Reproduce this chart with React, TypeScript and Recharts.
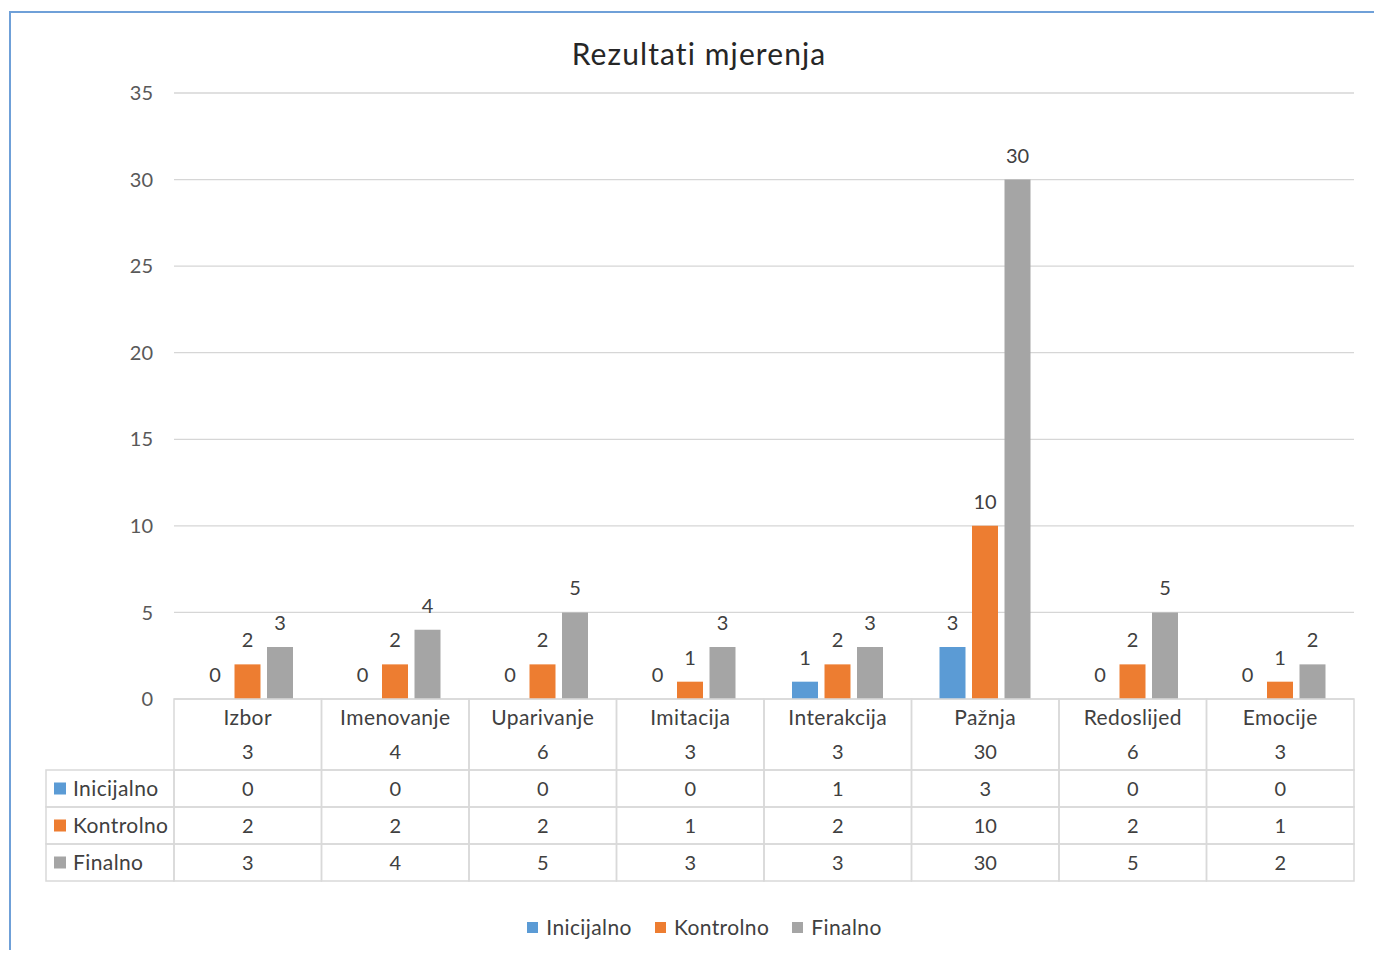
import React from 'react';
import { BarChart, Bar, XAxis, YAxis, CartesianGrid, Legend, LabelList } from 'recharts';

const categories = ['Izbor', 'Imenovanje', 'Uparivanje', 'Imitacija', 'Interakcija', 'Pažnja', 'Redoslijed', 'Emocije'];
const maxScores = [3, 4, 6, 3, 3, 30, 6, 3];
const inicijalno = [0, 0, 0, 0, 1, 3, 0, 0];
const kontrolno = [2, 2, 2, 1, 2, 10, 2, 1];
const finalno = [3, 4, 5, 3, 3, 30, 5, 2];
const yTicks = [0, 5, 10, 15, 20, 25, 30, 35];
const seriesNames = ['Inicijalno', 'Kontrolno', 'Finalno'];
const seriesKeys = ['inicijalno', 'kontrolno', 'finalno'];
const seriesValues = [inicijalno, kontrolno, finalno];
const seriesColors = ['#5B9BD5', '#ED7D31', '#A5A5A5'];
const title = 'Rezultati mjerenja';

const data = categories.map((name, i) => ({
  name,
  max: maxScores[i],
  inicijalno: inicijalno[i],
  kontrolno: kontrolno[i],
  finalno: finalno[i],
}));

const TEXT = '#404040';
const AXIS_TEXT = '#595959';
const BORDER = '#d9d9d9';
const LABEL_COL = 128;
const CAT_ROW_H = 71;
const ROW_H = 37;
const FONT = 20;
const WORD_FONT = 21;
const WORD_SPACING = 0.4;

function CategoryTick(props: any) {
  const { x, y, payload, width, index } = props;
  const bw = (width || 1180) / categories.length;
  const i = typeof index === 'number' ? index : payload.index;
  return (
    <g>
      <rect x={x - bw / 2} y={y} width={bw} height={CAT_ROW_H} fill="none" stroke={BORDER} strokeWidth={1.5} />
      <text
        x={x}
        y={y + 17}
        textAnchor="middle"
        dominantBaseline="central"
        fontSize={WORD_FONT}
        letterSpacing={WORD_SPACING}
        fill={TEXT}
      >
        {payload.value}
      </text>
      <text x={x} y={y + 52} textAnchor="middle" dominantBaseline="central" fontSize={FONT} fill={TEXT}>
        {maxScores[i]}
      </text>
    </g>
  );
}

function makeRowTick(s: number) {
  return function RowTick(props: any) {
    const { x, y, payload, width, index } = props;
    const bw = (width || 1180) / categories.length;
    const i = typeof index === 'number' ? index : payload.index;
    const left = x - bw / 2;
    return (
      <g>
        {i === 0 && (
          <g>
            <rect x={left - LABEL_COL} y={y} width={LABEL_COL} height={ROW_H} fill="none" stroke={BORDER} strokeWidth={1.5} />
            <rect x={left - LABEL_COL + 8} y={y + ROW_H / 2 - 6} width={12} height={12} fill={seriesColors[s]} />
            <text
              x={left - LABEL_COL + 27}
              y={y + ROW_H / 2 - 1}
              dominantBaseline="central"
              fontSize={WORD_FONT}
              letterSpacing={WORD_SPACING}
              fill={TEXT}
            >
              {seriesNames[s]}
            </text>
          </g>
        )}
        <rect x={left} y={y} width={bw} height={ROW_H} fill="none" stroke={BORDER} strokeWidth={1.5} />
        <text x={x} y={y + ROW_H / 2 - 1} textAnchor="middle" dominantBaseline="central" fontSize={FONT} fill={TEXT}>
          {seriesValues[s][i]}
        </text>
      </g>
    );
  };
}

const rowTicks = [makeRowTick(0), makeRowTick(1), makeRowTick(2)];

function LegendContent() {
  return (
    <div
      style={{
        height: 67,
        boxSizing: 'border-box',
        paddingTop: 34,
        paddingLeft: 19,
        display: 'flex',
        justifyContent: 'center',
        alignItems: 'flex-start',
        fontFamily: 'Lato',
      }}
    >
      {seriesNames.map((n, i) => (
        <div key={n} style={{ display: 'flex', alignItems: 'center', height: 24, marginLeft: i ? 23 : 0 }}>
          <span style={{ display: 'inline-block', width: 11, height: 11, background: seriesColors[i], marginRight: 8 }} />
          <span style={{ fontSize: WORD_FONT, letterSpacing: WORD_SPACING, color: TEXT, lineHeight: '24px' }}>{n}</span>
        </div>
      ))}
    </div>
  );
}

export default function App() {
  return (
    <div style={{ position: 'relative', width: 1374, height: 942, fontFamily: 'Lato', background: '#fff' }}>
      <div
        style={{
          position: 'absolute',
          left: 1,
          top: 3,
          width: 1373,
          height: 947,
          boxSizing: 'border-box',
          borderLeft: '2px solid #6fa0d8',
          borderTop: '2px solid #6fa0d8',
        }}
      />
      <div style={{ position: 'absolute', left: 0, top: 0 }}>
        <BarChart
          width={1374}
          height={942}
          data={data}
          margin={{ top: 85, right: 28, left: 0, bottom: 2 }}
          barSize={26}
          barGap={6.5}
        >
          <text x={691} y={57} textAnchor="middle" fontSize={30} letterSpacing={1.1} fill="#262626" fontFamily="Lato">
            {title}
          </text>
          <CartesianGrid xAxisId="cat" vertical={false} stroke="#d6d6d6" strokeWidth={1.3} />
          <YAxis
            width={166}
            domain={[0, 35]}
            ticks={yTicks}
            axisLine={false}
            tickLine={false}
            tickSize={0}
            tickMargin={21}
            tick={{ fontSize: FONT, fill: AXIS_TEXT }}
          />
          <XAxis
            xAxisId="cat"
            dataKey="name"
            height={CAT_ROW_H}
            axisLine={false}
            tickLine={false}
            tickSize={0}
            tickMargin={0}
            interval={0}
            tick={CategoryTick}
          />
          {seriesKeys.map((k, s) => (
            <XAxis
              key={k}
              xAxisId={'row' + s}
              dataKey="name"
              height={ROW_H}
              axisLine={false}
              tickLine={false}
              tickSize={0}
              tickMargin={0}
              interval={0}
              tick={rowTicks[s]}
            />
          ))}
          <Legend verticalAlign="bottom" wrapperStyle={{ left: 0, width: 1374 }} content={LegendContent} />
          {seriesKeys.map((k, s) => (
            <Bar
              key={k}
              xAxisId="cat"
              dataKey={k}
              name={seriesNames[s]}
              fill={seriesColors[s]}
              minPointSize={0.01}
              isAnimationActive={false}
            >
              <LabelList dataKey={k} position="top" offset={17} fontSize={FONT} fill={TEXT} />
            </Bar>
          ))}
        </BarChart>
      </div>
    </div>
  );
}
